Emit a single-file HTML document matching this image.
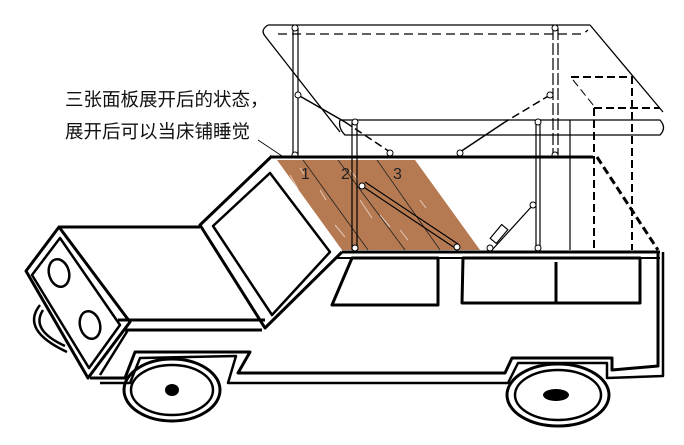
<!DOCTYPE html>
<html><head><meta charset="utf-8"><style>
html,body{margin:0;padding:0;background:#fff;width:684px;height:445px;overflow:hidden}
svg{display:block}
text{font-family:"Liberation Sans","Noto Sans CJK SC",sans-serif}
</style></head><body>
<svg width="684" height="445" viewBox="0 0 684 445" xmlns="http://www.w3.org/2000/svg" fill="none" stroke="#000" stroke-linejoin="round">
<rect width="684" height="445" fill="#fff" stroke="none"/>
<!-- brown panels -->
<polygon points="277,160 415,160 480,250 342,250" fill="#b67a52" stroke="none"/>
<g stroke="#fff" stroke-width="1" opacity="0.6">
<path d="M290,175 l8,14 M300,200 l10,18 M320,190 l6,10 M335,225 l10,12 M315,215 l8,14 M360,200 l12,18 M380,215 l10,12 M400,230 l8,10 M420,200 l6,8 M300,168 l4,6 M350,170 l8,10"/>
</g>
<path d="M303,160 L368,250 M338,160 L405,250 M377,160 L440,250" stroke="#222" stroke-width="0.8"/>
<g font-size="16" fill="#222" stroke="none">
<text x="301" y="179">1</text><text x="341" y="179">2</text><text x="393" y="179">3</text>
</g>

<!-- label text -->
<g font-size="18.5" fill="#111" stroke="none">
<text x="65" y="106">三张面板展开后的状态，</text>
<text x="65" y="138">展开后可以当床铺睡觉</text>
</g>
<path d="M258,140 L285,158" stroke-width="0.8"/>

<!-- canopy -->
<g stroke-width="1.3">
<path d="M268,25 L590,25 L663,112"/>
<path d="M268,25 Q260,30 265,36 L340,132"/>
<path d="M340,120 L660,120 Q667,128 660,135 L345,135 Q338,128 340,120"/>
<path d="M278,34 L583,34 L588,30" stroke-dasharray="9,5"/>
</g>
<!-- posts -->
<g stroke-width="1.2">
<path d="M293,28 V155 M298,28 V155"/>
<path d="M352,122 V250 M357,122 V250"/>
<path d="M536,122 V250 M540,122 V250"/>
<path d="M553,28 V155 M558,28 V155" stroke-dasharray="12,3"/>
<path d="M570,120 V250"/>
<path d="M298,95 L345,122" stroke-width="1.5"/>
<path d="M345,122 L390,152" stroke-dasharray="8,4" stroke-width="1.5"/>
<path d="M550,95 L505,122" stroke-dasharray="8,4" stroke-width="1.5"/>
<path d="M505,122 L460,152" stroke-width="1.5"/>
<path d="M362,186 L455,248 M365,182 L458,244"/>
<path d="M533,205 L492,250"/>
<rect x="495" y="225" width="8" height="18" transform="rotate(40 499 234)" stroke-width="1.2"/>
</g>
<g fill="#fff" stroke-width="1">
<circle cx="295" cy="28" r="3"/><circle cx="298" cy="95" r="3"/><circle cx="295" cy="155" r="3"/>
<circle cx="355" cy="122" r="3"/><circle cx="555" cy="28" r="3"/><circle cx="550" cy="95" r="3"/>
<circle cx="555" cy="155" r="3"/><circle cx="390" cy="153" r="3"/><circle cx="460" cy="153" r="3"/>
<circle cx="538" cy="122" r="3"/><circle cx="362" cy="186" r="3"/><circle cx="457" cy="247" r="3"/>
<circle cx="533" cy="205" r="3"/><circle cx="490" cy="248" r="3"/><circle cx="355" cy="248" r="3"/>
<circle cx="538" cy="248" r="3"/>
</g>
<!-- dashed box -->
<g stroke-width="2" stroke-dasharray="8,4">
<path d="M571,77 H632 V250"/>
<path d="M594,108 H660"/>
<path d="M594,108 V250"/>
<path d="M573,80 L594,106" stroke-width="1"/>
<path d="M585,157 L597,157 L658,250" stroke-width="3"/>
</g>
<path d="M272,157 H585" stroke-width="3"/>

<!-- car body -->
<g stroke-width="3">
<!-- windshield frame -->
<path d="M272,156 L200,225 L265,328 L342,252"/>
<path d="M270,173 L213,226 L272,315 L330,252 Z" stroke-width="2.5"/>
<!-- hood -->
<path d="M60,227 H200"/>
<path d="M118,320 H265 M125,330 H262"/>
<!-- front block -->
<path d="M26,271 L59,227 L130,322 L88,378 Z"/>
<path d="M32,275 L60,238 L120,325 L89,368 Z" stroke-width="2.5"/>
<path d="M128,330 L100,375" stroke-width="2.5"/>
<ellipse cx="59" cy="273" rx="10" ry="14" transform="rotate(-15 59 273)" stroke-width="2.5"/>
<ellipse cx="90" cy="325" rx="10" ry="14" transform="rotate(-15 90 325)" stroke-width="2.5"/>
<path d="M40,305 Q20,330 67,352 M43,310 Q30,330 65,346" stroke-width="2.5"/>
<!-- lower body/fender -->
<path d="M90,378 H125 L135,352 L250,352 L238,373 H505 L512,358 H612 V370 L658,366 V252"/>
<path d="M100,383 H130 L140,358 L236,356 L228,383 H508 L518,363 H607 V378 L663,376 V252" stroke-width="2.5"/>
<!-- top line of body -->
<path d="M342,252 H660" stroke-width="3"/>
<path d="M335,258 H660" stroke-width="2"/>
<!-- windows -->
<path d="M352,258 H438 V305 H332 Z" stroke-width="3"/>
<path d="M463,258 H640 V303 H462 Z M556,262 V303" stroke-width="3"/>
</g>
<!-- wheels -->
<g stroke-width="3">
<ellipse cx="172" cy="390" rx="48" ry="31"/>
<ellipse cx="172" cy="390" rx="41" ry="25" stroke-width="2.5"/>
<ellipse cx="558" cy="395" rx="51" ry="31"/>
<ellipse cx="558" cy="395" rx="43" ry="25" stroke-width="2.5"/>
</g>
<ellipse cx="172" cy="390" rx="7" ry="6" fill="#000" stroke="none"/>
<ellipse cx="556" cy="395" rx="13" ry="6" fill="#000" stroke="none"/>
</svg>
</body></html>
